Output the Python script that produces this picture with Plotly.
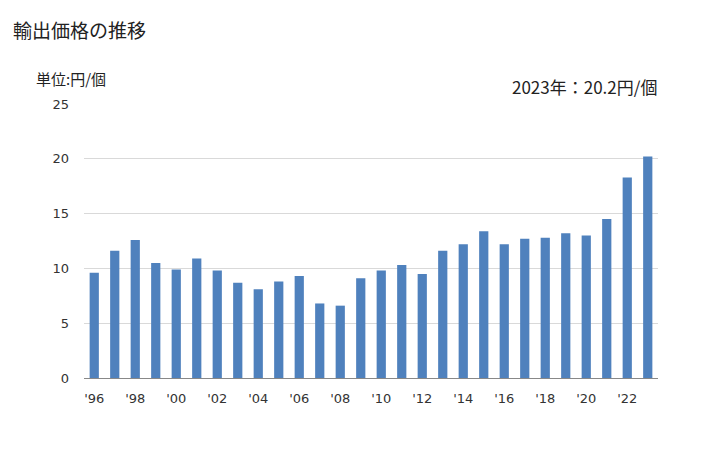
import plotly.graph_objects as go

years = list(range(1996, 2024))
values = [9.6, 11.6, 12.6, 10.5, 9.9, 10.9, 9.8, 8.7, 8.1, 8.8, 9.3, 6.8, 6.6, 9.1,
          9.8, 10.3, 9.5, 11.6, 12.2, 13.4, 12.2, 12.7, 12.8, 13.2, 13.0, 14.5, 18.3, 20.2]
tick_years = list(range(1996, 2024, 2))
tick_labels = ["'" + str(y)[2:] for y in tick_years]

L, R, T, B = 84, 70, 104, 72
W, H = 728, 450
pw, ph = W - L - R, H - T - B

def px(x):
    return (x - L) / pw

def py(y):
    return (H - B - y) / ph

fig = go.Figure(go.Bar(x=years, y=values, marker_color="#4F81BD", marker_line_width=0))

font = "'DejaVu Sans', 'Noto Sans CJK JP', sans-serif"
fig.update_layout(
    width=W, height=H,
    margin=dict(l=L, r=R, t=T, b=B),
    paper_bgcolor="white", plot_bgcolor="white",
    bargap=0.55, showlegend=False,
    font=dict(family=font, size=13, color="#333333"),
    xaxis=dict(range=[1995.5, 2023.5], tickmode="array", tickvals=tick_years, ticktext=tick_labels,
               showgrid=False, showline=True, linecolor="#888888", linewidth=1, ticks="",
               ticklabelstandoff=8, tickfont=dict(size=13, color="#333333")),
    yaxis=dict(range=[0, 25], tickvals=[0, 5, 10, 15, 20, 25], showgrid=True, gridcolor="#D9D9D9",
               gridwidth=1, zeroline=False, ticks="", ticklabelstandoff=14,
               tickfont=dict(size=13, color="#333333")),
    annotations=[
        dict(text="輸出価格の推移", x=px(11), y=py(29), xref="paper", yref="paper", showarrow=False,
             xanchor="left", yanchor="middle",
             font=dict(family="'Noto Sans CJK JP', sans-serif", size=19, color="#222222")),
        dict(text="単位:円/個", x=px(34), y=py(78), xref="paper", yref="paper", showarrow=False,
             xanchor="left", yanchor="middle",
             font=dict(family="'Noto Sans CJK JP', sans-serif", size=15, color="#222222")),
        dict(text="2023年：20.2円/個", x=px(659), y=py(87), xref="paper", yref="paper", showarrow=False,
             xanchor="right", yanchor="middle",
             font=dict(family="'Noto Sans CJK JP', sans-serif", size=17, color="#222222")),
    ],
)
fig.write_html("out.html")
